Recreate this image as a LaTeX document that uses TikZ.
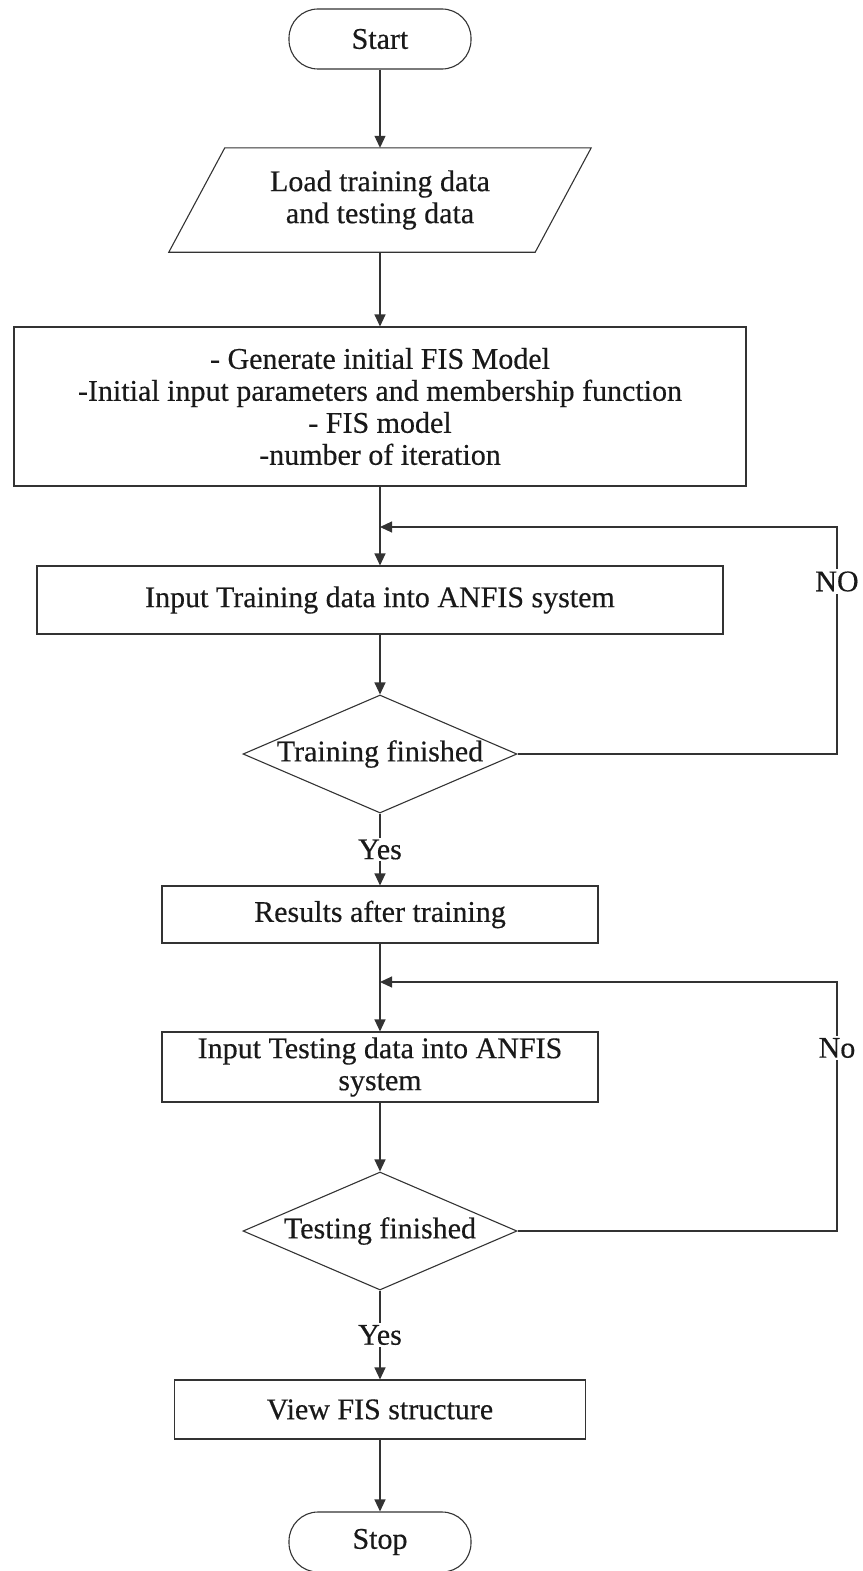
\documentclass[tikz,border=0pt]{standalone}
\usepackage{fontspec}
\setmainfont[FakeBold=0.4]{Liberation Serif}
\usetikzlibrary{arrows.meta,shapes.geometric,calc}
\begin{document}
\begin{tikzpicture}[x=1pt,y=-1pt,
  every node/.style={font=\fontsize{30}{32}\selectfont, text=black!90},
  ln/.style={draw=black!80, line width=1.1pt},
  arr/.style={ln, -{Triangle[length=12pt,width=11pt]}},
  box/.style={ln, rectangle, align=center, inner sep=0pt},
  term/.style={ln, rectangle, rounded corners=29pt, minimum width=182pt, minimum height=60pt, inner sep=0pt},
  dec/.style={ln, diamond, aspect=2.32, minimum width=274pt, minimum height=118pt, inner sep=0pt},
  lbl/.style={fill=white, inner sep=2pt}]
\useasboundingbox (0,0) rectangle (862,1571);
\node[term] (start) at (380,39) {Start};
\node[inner sep=0pt, minimum width=366pt, minimum height=104pt, align=center] (load) at (380,200) {Load training data\\and testing data};
\draw[ln] ([xshift=-28pt]load.south west) -- ([xshift=-28pt]load.south east) -- ([xshift=28pt]load.north east) -- ([xshift=28pt]load.north west) -- cycle;
\node[box, minimum width=732pt, minimum height=159pt] (gen) at (380,406.5) {- Generate initial FIS Model\\-Initial input parameters and membership function\\- FIS model\\-number of iteration};
\node[box, minimum width=686pt, minimum height=68pt] (train) at (380,600) {Input Training data into ANFIS system};
\node[dec] (d1) at (380,754) {Training finished};
\node[box, minimum width=436pt, minimum height=57pt] (res) at (380,914.5) {Results after training};
\node[box, minimum width=436pt, minimum height=70pt] (test) at (380,1067) {Input Testing data into ANFIS\\system};
\node[dec] (d2) at (380,1231) {Testing finished};
\node[box, minimum width=411pt, minimum height=59pt] (view) at (380,1409.5) {View FIS structure};
\node[term] (stop) at (380,1542) {Stop};
\coordinate (j1) at (380,527);
\coordinate (r1) at (837,754);
\coordinate (r1t) at (837,527);
\coordinate (j2) at (380,982);
\coordinate (r2) at (837,1231);
\coordinate (r2t) at (837,982);
\draw[arr] (start.south) -- (load.north);
\draw[arr] (load.south) -- (gen.north);
\draw[arr] (gen.south) -- (train.north);
\draw[arr] (train.south) -- (d1.north);
\draw[arr] (d1.east) -- (r1) -- node[lbl, pos=0.76] {NO} (r1t) -- (j1);
\draw[arr] (d1.south) -- node[lbl] {Yes} (res.north);
\draw[arr] (res.south) -- (test.north);
\draw[arr] (test.south) -- (d2.north);
\draw[arr] (d2.east) -- (r2) -- node[lbl, pos=0.735] {No} (r2t) -- (j2);
\draw[arr] (d2.south) -- node[lbl] {Yes} (view.north);
\draw[arr] (view.south) -- (stop.north);
\end{tikzpicture}
\end{document}
